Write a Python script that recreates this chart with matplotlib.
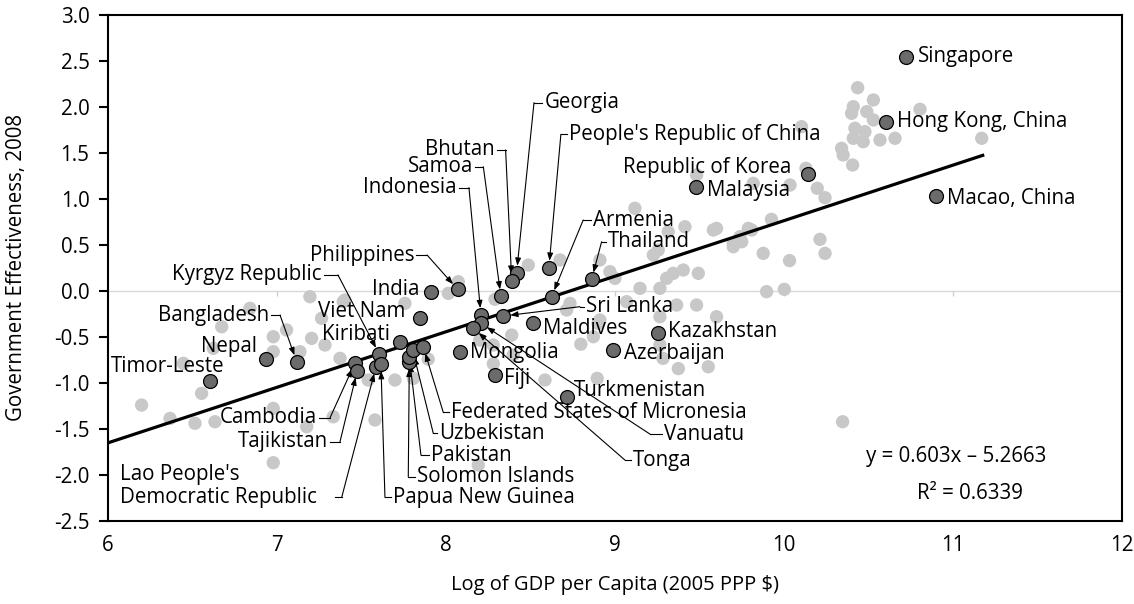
import numpy as np
import matplotlib.pyplot as plt

plt.rcParams['font.family'] = ['Open Sans', 'DejaVu Sans']
plt.rcParams['axes.unicode_minus'] = False

# all other countries (light grey)
other_x = [7.195, 7.392, 6.840, 6.673, 7.057, 6.978, 7.264, 7.205, 7.284, 6.978,
           7.136, 7.373, 6.446, 6.623, 6.554, 6.199, 6.367, 6.515, 6.633, 6.978,
           7.333, 7.176, 6.978, 7.540, 7.580, 7.402, 7.757, 7.698, 7.807, 7.895,
           8.073, 8.014, 8.290, 8.389, 8.280, 8.398, 8.280, 8.586, 8.798, 8.872,
           8.900, 8.714, 8.895, 9.148, 9.266, 9.365, 9.483, 9.601, 9.266, 9.552,
           9.375, 8.191, 8.200, 9.118, 9.315, 9.414, 9.256, 8.911, 8.675, 8.487,
           8.970, 9.000, 9.306, 9.345, 9.404, 9.493, 9.582, 9.700, 9.740, 9.809,
           8.734, 9.069, 8.911, 9.227, 9.266, 9.284, 9.601, 9.483, 9.700,
           10.436, 10.529, 10.410, 10.490, 10.400, 10.529, 10.805, 10.420, 10.479, 10.410,
           10.469, 10.568, 10.657, 11.170, 10.341, 10.350, 10.406, 10.104, 10.130, 10.197,
           10.243, 10.036, 9.818, 9.926, 9.789, 9.750, 10.213, 10.243, 9.877, 10.033,
           9.897, 10.002, 10.347]
other_y = [-0.062, -0.116, -0.188, -0.388, -0.423, -0.496, -0.296, -0.514, -0.586, -0.659,
           -0.659, -0.731, -0.785, -0.622, -1.111, -1.238, -1.383, -1.436, -1.419, -1.274,
           -1.365, -1.473, -1.864, -0.966, -1.400, -0.098, -0.134, -0.966, -0.948, -0.740,
           0.101, -0.025, -0.090, -0.478, -0.586, -0.695, -0.790, -0.966, -0.577, -0.496,
           -0.351, -0.206, -0.948, 0.029, 0.029, -0.152, -0.152, -0.279, -0.586, -0.822,
           -0.842, -1.889, -0.532, 0.898, 0.644, 0.698, 0.445, 0.337, 0.337, 0.282,
           0.210, 0.138, 0.138, 0.192, 0.228, 0.192, 0.662, 0.518, 0.590, 0.662,
           -0.134, -0.116, -0.315, 0.391, -0.279, -0.731, 0.680, 1.260, 0.481,
           2.207, 2.074, 2.001, 1.947, 1.929, 1.857, 1.973, 1.767, 1.730, 1.658,
           1.621, 1.640, 1.658, 1.658, 1.549, 1.477, 1.368, 1.784, 1.332, 1.115,
           1.013, 1.151, 1.169, 0.778, 0.680, 0.535, 0.561, 0.409, 0.409, 0.330,
           -0.007, 0.018, -1.419]

# Asian and Pacific economies (dark, labelled)
asia_names = ['Singapore', 'Hong Kong, China', 'Republic of Korea', 'Malaysia', 'Macao, China',
              'Georgia', 'Bhutan', "People's Republic of China", 'Samoa', 'Indonesia',
              'Vanuatu', 'Tonga', 'Sri Lanka', 'India', 'Philippines',
              'Viet Nam', 'Kiribati', 'Kyrgyz Republic', 'Cambodia', 'Tajikistan',
              "Lao People's\nDemocratic Republic", 'Papua New Guinea', 'Solomon Islands', 'Pakistan', 'Uzbekistan',
              'Federated States of Micronesia', 'Mongolia', 'Fiji', 'Maldives', 'Armenia',
              'Thailand', 'Kazakhstan', 'Azerbaijan', 'Turkmenistan', 'Nepal',
              'Bangladesh', 'Timor-Leste']
asia_x = [10.720, 10.602, 10.140, 9.479, 10.899,
          8.418, 8.389, 8.609, 8.325, 8.207,
          8.207, 8.162, 8.339, 7.909, 8.069,
          7.846, 7.728, 7.605, 7.462, 7.475,
          7.586, 7.615, 7.783, 7.783, 7.803,
          7.866, 8.083, 8.290, 8.517, 8.625,
          8.862, 9.254, 8.986, 8.714, 6.933,
          7.117, 6.604]
asia_y = [2.544, 1.838, 1.270, 1.132, 1.031,
          0.199, 0.112, 0.253, -0.058, -0.261,
          -0.351, -0.405, -0.271, -0.008, 0.018,
          -0.296, -0.557, -0.684, -0.778, -0.865,
          -0.822, -0.793, -0.768, -0.717, -0.641,
          -0.605, -0.659, -0.912, -0.351, -0.062,
          0.127, -0.453, -0.641, -1.154, -0.738,
          -0.768, -0.977]

slope, intercept, r2 = 0.603, -5.2663, 0.6339
fit_start, fit_end = 6.0, 11.185

# labels placed right next to their marker: offset in pixels, alignment
near_labels = {
    'Singapore': (12, 0, 'left'),
    'Hong Kong, China': (11, 0, 'left'),
    'Macao, China': (11, -2, 'left'),
    'Malaysia': (11, -4, 'left'),
    'Republic of Korea': (-16, 7, 'right'),
    'India': (-11, 2, 'right'),
    'Viet Nam': (-15, 7, 'right'),
    'Kiribati': (-10, 8, 'right'),
    'Mongolia': (10, -1, 'left'),
    'Fiji': (9, -3, 'left'),
    'Maldives': (10, -5, 'left'),
    'Kazakhstan': (10, 1, 'left'),
    'Azerbaijan': (11, -3, 'left'),
    'Turkmenistan': (7, 7, 'left'),
    'Nepal': (-9, 13, 'right'),
    'Timor-Leste': (14, 15, 'right'),
}

# labels with a leader line: text x, text y, alignment, knee x, knee y
leader_labels = {
    'Georgia': (8.582, 2.045, 'left', 8.521, 2.045),
    "People's Republic of China": (8.730, 1.701, 'left', 8.680, 1.701),
    'Bhutan': (8.290, 1.531, 'right', 8.353, 1.531),
    'Samoa': (8.162, 1.350, 'right', 8.221, 1.350),
    'Indonesia': (8.063, 1.122, 'right', 8.136, 1.122),
    'Philippines': (7.811, 0.391, 'right', 7.888, 0.391),
    'Kyrgyz Republic': (7.265, 0.174, 'right', 7.361, 0.174),
    'Armenia': (8.868, 0.771, 'left', 8.812, 0.771),
    'Thailand': (8.960, 0.535, 'left', 8.921, 0.535),
    'Sri Lanka': (8.828, -0.170, 'left', 8.793, -0.170),
    'Bangladesh': (6.954, -0.261, 'right', 7.018, -0.261),
    'Cambodia': (7.235, -1.376, 'right', 7.314, -1.376),
    'Tajikistan': (7.304, -1.636, 'right', 7.373, -1.636),
    "Lao People's\nDemocratic Republic": (6.071, -2.117, 'left', 7.383, -2.240),
    'Papua New Guinea': (7.685, -2.240, 'left', 7.639, -2.240),
    'Solomon Islands': (7.827, -2.016, 'left', 7.777, -2.016),
    'Pakistan': (7.911, -1.781, 'left', 7.852, -1.781),
    'Uzbekistan': (7.959, -1.545, 'left', 7.925, -1.545),
    'Federated States of Micronesia': (8.028, -1.317, 'left', 7.984, -1.317),
    'Vanuatu': (9.290, -1.553, 'left', 9.207, -1.553),
    'Tonga': (9.105, -1.835, 'left', 9.059, -1.835),
}

fig = plt.figure(figsize=(11.34, 6.04), dpi=100)
ax = fig.add_axes([0.0952, 0.1369, 0.8942, 0.8388])

ax.axhline(0, color='#d8d8d8', lw=1, zorder=1)
xticks = list(range(6, 13))
ax.vlines(xticks[1:-1], -0.055, 0, colors='#d0d0d0', lw=1, zorder=1)

ax.scatter(other_x, other_y, s=92, color='#c8c8c8', edgecolors='none', zorder=2)

fx = np.array([fit_start, fit_end])
ax.plot(fx, slope * fx + intercept, color='black', lw=2.3, zorder=3, solid_capstyle='butt')

ax.scatter(asia_x, asia_y, s=100, color='#6b6b6b', edgecolors='black', linewidths=0.9, zorder=5)

pos = dict(zip(asia_names, zip(asia_x, asia_y)))
fs = 14.8

for name, (dx, dy, ha) in near_labels.items():
    ax.annotate(name, xy=pos[name], xytext=(dx * 0.72, dy * 0.72), textcoords='offset points',
                ha=ha, va='center', fontsize=fs, zorder=6)

gap = 0.012
for name, (tx, ty, ha, kx, ky) in leader_labels.items():
    ax.text(tx, ty, name, ha=ha, va='center', fontsize=fs, zorder=6,
            multialignment='left', linespacing=1.15)
    if '\n' in name:
        sx = kx - 0.04
    elif ha == 'left':
        sx = tx - gap
    else:
        sx = tx + gap
    ax.plot([sx, kx], [ky, ky], color='black', lw=0.8, zorder=4)
    ax.annotate('', xy=pos[name], xytext=(kx, ky),
                arrowprops=dict(arrowstyle='-|>,head_length=0.45,head_width=0.17',
                                color='black', lw=0.8, shrinkA=0, shrinkB=5),
                zorder=4)

ax.text(11.02, -1.80, 'y = 0.603x \u2013 5.2663', ha='center', va='center', fontsize=fs)
ax.text(11.10, -2.197, f'R\u00b2 = {r2:.4f}', ha='center', va='center', fontsize=fs)

ax.set_xlim(6, 12)
ax.set_ylim(-2.5, 3.0)
ax.set_xticks(xticks)
ax.set_yticks(np.arange(-2.5, 3.01, 0.5))
ax.yaxis.set_major_formatter(plt.FormatStrFormatter('%.1f'))
ax.tick_params(axis='y', direction='out', length=6.8, width=1.5, pad=6.5, labelsize=fs)
ax.tick_params(axis='x', length=0, pad=10, labelsize=fs)
for sp in ax.spines.values():
    sp.set_linewidth(1.5)
    sp.set_color('black')

ax.set_ylabel('Government Effectiveness, 2008', fontsize=fs)
ax.yaxis.set_label_coords(-0.080, 0.5)
ax.set_xlabel('Log of GDP per Capita (2005 PPP $)', fontsize=14.5)
ax.xaxis.set_label_coords(0.5, -0.106)

fig.savefig('out.png', dpi=100)
